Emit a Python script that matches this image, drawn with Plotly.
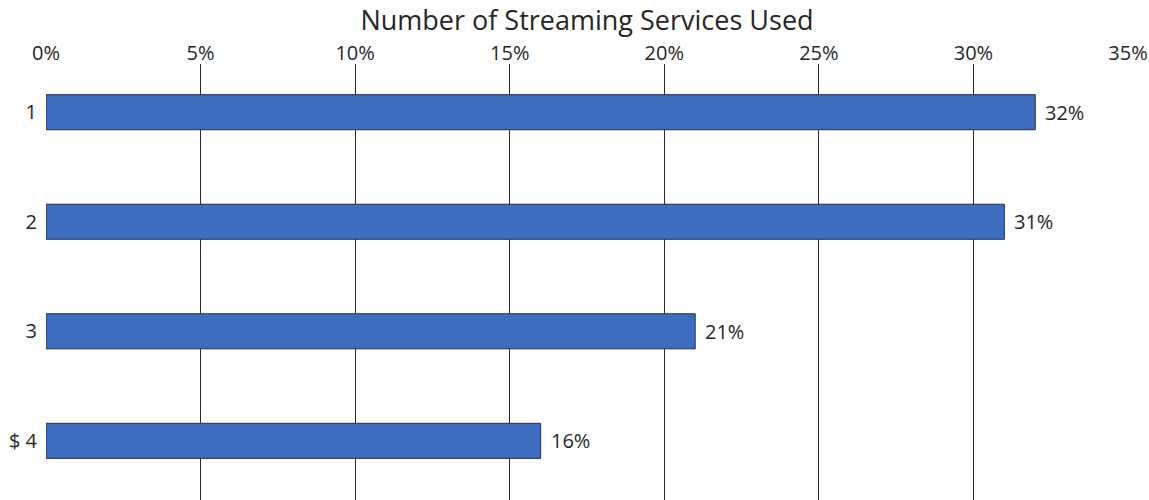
import plotly.graph_objects as go

# Share of respondents by number of streaming services used
categories = ["1", "2", "3", "$ 4"]
shares = [32, 31, 21, 16]
x_ticks = [0, 5, 10, 15, 20, 25, 30, 35]
x_tick_labels = ["0%", "5%", "10%", "15%", "20%", "25%", "30%", "35%"]

FONT = "Open Sans"
TEXT = "#262626"

fig = go.Figure(
    go.Bar(
        y=categories,
        x=shares,
        orientation="h",
        width=0.32,
        marker=dict(color="#3c6dbe", line=dict(color="#1f2f4f", width=1)),
        hoverinfo="skip",
    )
)

# value labels placed just past the end of each bar (y given as category index)
for idx, val in enumerate(shares):
    fig.add_annotation(
        x=val,
        y=idx,
        text=f"{val}%",
        showarrow=False,
        xanchor="left",
        yanchor="middle",
        xshift=8,
        font=dict(family=FONT, size=20, color=TEXT),
    )

fig.update_layout(
    width=1149,
    height=500,
    margin=dict(l=46, r=21, t=64, b=0),
    paper_bgcolor="white",
    plot_bgcolor="white",
    showlegend=False,
    title=dict(
        text="Number of Streaming Services Used",
        x=0.5,
        xref="paper",
        xanchor="center",
        y=0.958,
        yanchor="middle",
        font=dict(family=FONT, size=27, color=TEXT),
    ),
    xaxis=dict(
        side="top",
        range=[0, 35],
        tickvals=x_ticks,
        ticktext=x_tick_labels,
        showgrid=True,
        gridcolor="#2a2a2a",
        gridwidth=1,
        zeroline=False,
        showline=False,
        ticks="",
        ticklabelstandoff=-1,
        tickfont=dict(family=FONT, size=20, color=TEXT),
    ),
    yaxis=dict(
        type="category",
        range=[3.54, -0.44],
        showgrid=False,
        zeroline=False,
        showline=False,
        ticks="",
        ticklabelstandoff=8,
        tickfont=dict(family=FONT, size=20, color=TEXT),
    ),
)

fig.write_html("out.html")
